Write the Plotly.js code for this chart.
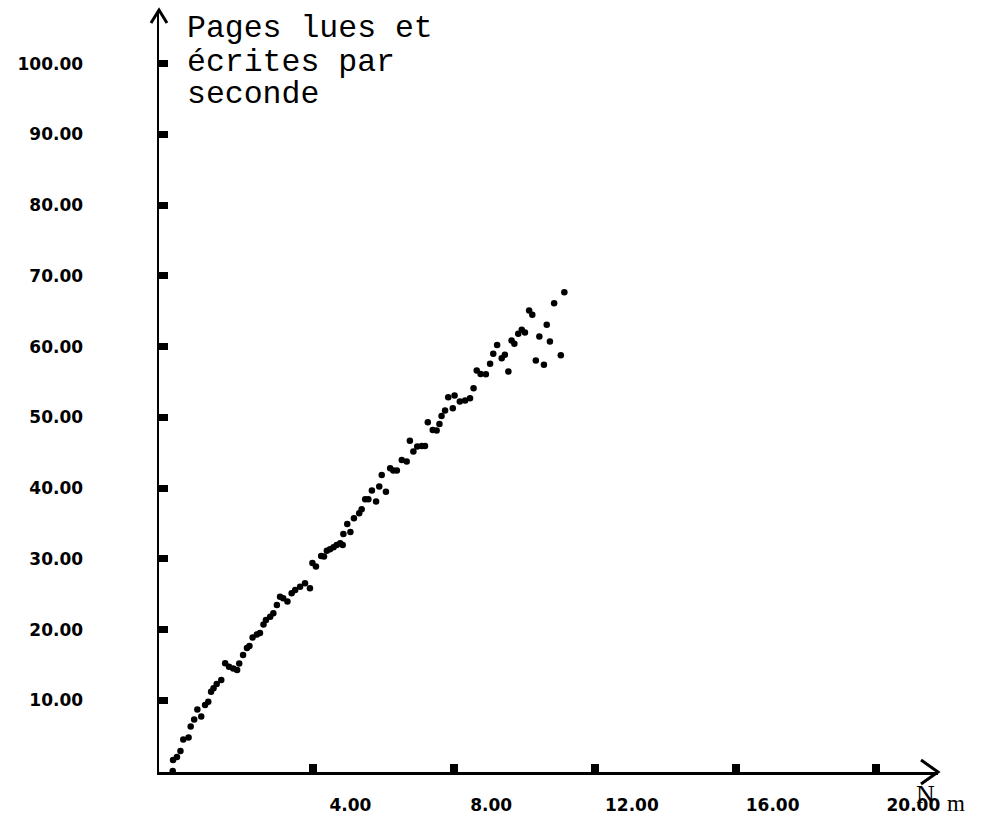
<!DOCTYPE html>
<html>
<head>
<meta charset="utf-8">
<script src="https://cdn.plot.ly/plotly-3.0.1.min.js"></script>
<style>html,body{margin:0;padding:0;background:#fff;}#plot{width:984px;height:818px;}</style>
</head>
<body>
<div id="plot"></div>
<script>
// Data: x = N_m, y = pages read and written per second
const nm = [0.00,0.01,0.12,0.22,0.30,0.45,0.51,0.61,0.70,0.81,0.92,1.01,1.09,1.16,1.25,1.38,1.49,1.60,1.72,1.83,
  1.89,2.00,2.11,2.18,2.27,2.39,2.48,2.58,2.65,2.77,2.86,2.96,3.05,3.14,3.26,3.38,3.48,3.62,3.76,3.90,
  3.97,4.07,4.22,4.30,4.38,4.47,4.57,4.66,4.76,4.83,4.85,4.96,5.05,5.15,5.30,5.37,5.47,5.56,5.66,5.78,
  5.87,5.94,6.06,6.18,6.27,6.37,6.51,6.65,6.74,6.84,6.95,7.08,7.17,7.25,7.39,7.50,7.58,7.64,7.74,7.83,
  7.96,8.01,8.16,8.31,8.45,8.55,8.64,8.75,8.90,9.02,9.11,9.22,9.35,9.44,9.54,9.63,9.71,9.82,9.92,10.01,
  10.13,10.22,10.32,10.42,10.55,10.63,10.72,10.84,11.03,11.13];
const pages = [0.00,1.56,1.98,2.83,4.46,4.74,6.29,7.28,8.70,7.71,9.34,9.80,11.22,11.70,12.31,12.87,15.23,14.75,14.50,14.29,
  15.21,16.41,17.40,17.68,18.88,19.31,19.52,20.72,21.36,21.82,22.31,23.48,24.65,24.43,23.95,25.13,25.60,26.07,26.55,25.84,
  29.42,28.90,30.41,30.34,31.16,31.36,31.64,31.97,32.21,31.97,33.52,34.94,33.80,35.74,36.45,37.02,38.43,38.43,39.65,38.09,
  40.21,41.87,39.50,42.81,42.48,42.48,43.99,43.75,46.68,45.16,45.87,45.97,45.97,49.32,48.23,48.13,49.08,50.21,50.96,52.86,
  51.30,53.11,52.24,52.38,52.69,54.13,56.62,56.15,56.11,57.57,58.98,60.25,58.37,58.84,56.48,60.86,60.40,61.81,62.38,61.99,
  65.11,64.50,58.03,61.43,57.43,63.08,60.72,66.15,58.80,67.71];
const xTicks = [4, 8, 12, 16, 20];
const xTickText = ["4.00", "8.00", "12.00", "16.00", "20.00"];
const yTicks = [10, 20, 30, 40, 50, 60, 70, 80, 90, 100];
const yTickText = ["10.00", "20.00", "30.00", "40.00", "50.00", "60.00", "70.00", "80.00", "90.00", "100.00"];
const titleLines = ["Pages lues et", "écrites par", "seconde"];
const xName = "N", xSub = "m";

const W = 984, H = 818, L = 159, R = 938, T = 10, B = 772;
const px = v => (v - L) / (R - L);
const py = v => (B - v) / (B - T);
const path = pts => pts.map((p, i) => (i ? 'L' : 'M') + px(p[0]).toFixed(5) + ',' + py(p[1]).toFixed(5)).join(' ');

const xRange = [-0.39, 21.75];
const labelShift = 1.05;
const lblFont = {family: 'DejaVu Sans', size: 17, color: '#000', weight: 'bold'};

const traces = [
  {x: nm, y: pages, type: 'scatter', mode: 'markers', cliponaxis: false,
   marker: {color: '#000', size: 6.5}, hoverinfo: 'skip', showlegend: false},
  {x: [], y: [], type: 'scatter', mode: 'markers', xaxis: 'x2', showlegend: false}
];

const annotations = titleLines.map((t, i) => ({
  text: t, xref: 'paper', yref: 'paper', x: px(185), y: py(29 + i * 33),
  xanchor: 'left', yanchor: 'middle', showarrow: false,
  font: {family: 'Liberation Mono', size: 31.5, color: '#000'}
}));
annotations.push({
  text: xName, xref: 'paper', yref: 'paper', x: px(914), y: py(794),
  xanchor: 'left', yanchor: 'middle', showarrow: false,
  font: {family: 'Liberation Serif', size: 26, color: '#000'}
});
annotations.push({
  text: xSub, xref: 'paper', yref: 'paper', x: px(946), y: py(817),
  xanchor: 'left', yanchor: 'bottom', showarrow: false, borderpad: 0,
  font: {family: 'Liberation Serif', size: 23, color: '#000'}
});

const layout = {
  width: W, height: H, paper_bgcolor: '#fff', plot_bgcolor: '#fff',
  margin: {l: L, r: W - R, t: T, b: H - B, pad: 0},
  showlegend: false,
  xaxis: {range: xRange, tickvals: xTicks, showticklabels: false, ticks: 'inside',
    ticklen: 8, tickwidth: 8, tickcolor: '#000', showline: true, linewidth: 2.5, linecolor: '#000',
    showgrid: false, zeroline: false, fixedrange: true, automargin: false},
  xaxis2: {overlaying: 'x', anchor: 'y', side: 'bottom',
    range: [xRange[0] - labelShift, xRange[1] - labelShift],
    tickvals: xTicks, ticktext: xTickText, ticks: '', showline: false, showgrid: false, zeroline: false,
    tickfont: lblFont, ticklabelstandoff: 21, fixedrange: true, automargin: false},
  yaxis: {range: [-0.14, 107.6], tickvals: yTicks, ticktext: yTickText, ticks: 'inside',
    ticklen: 9, tickwidth: 7, tickcolor: '#000', showline: true, linewidth: 2.5, linecolor: '#000',
    showgrid: false, zeroline: false, tickfont: lblFont, ticklabelstandoff: 70,
    fixedrange: true, automargin: false},
  annotations: annotations,
  shapes: [
    {type: 'path', xref: 'paper', yref: 'paper', path: path([[151, 23], [159, 10], [167, 23]]),
     line: {color: '#000', width: 3}},
    {type: 'path', xref: 'paper', yref: 'paper', path: path([[921, 760], [938, 772], [921, 784]]),
     line: {color: '#000', width: 3}}
  ]
};

Plotly.newPlot('plot', traces, layout, {displayModeBar: false, staticPlot: true});
</script>
</body>
</html>
